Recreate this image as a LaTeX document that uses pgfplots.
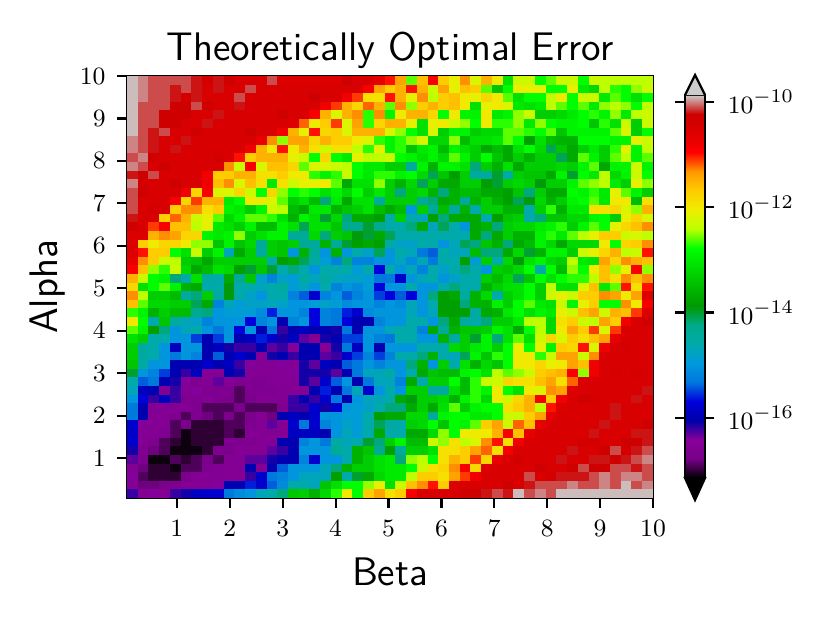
\documentclass[border=0pt]{standalone}
\usepackage{pgfplots}
\usepackage{pgfplotstable}
\pgfplotsset{compat=1.18}
\newcommand{\figtick}{\fontsize{9.4}{11}\selectfont}
\newcommand{\figlab}{\fontsize{14.4}{16}\selectfont\sffamily}
\pgfdeclareplotmark{cell}{%
  \pgfpathrectanglecorners{\pgfpoint{-1.95bp}{-1.57bp}}{\pgfpoint{1.95bp}{1.57bp}}%
  \pgfusepathqfill}
% error as tenths of a decade below 1e-10, top row first, beta left to right
\pgfplotstableread[header=false]{
-1 0 1 1 1 1 2 4 2 3 5 5 5 1 6 6 6 6 6 6 3 5 5 7 10 14 26 16 9 17 21 13 22 15 20 31 23 23 28 26 23 23 28 23 24 24 24 24 24
-1 0 1 1 2 1 2 5 2 5 5 1 5 5 5 5 5 5 5 5 5 5 9 14 17 15 10 15 23 14 21 16 17 26 34 28 21 21 21 28 28 21 30 32 24 27 28 25 23
-1 0 1 1 2 4 2 5 5 5 1 5 5 5 5 5 5 3 5 5 8 11 19 19 10 15 21 13 24 17 16 20 21 18 20 26 31 28 28 24 20 28 23 23 30 26 28 31 28
-1 1 1 1 3 3 1 3 5 5 2 5 5 5 5 5 5 5 8 11 15 18 12 15 26 13 25 17 15 17 16 20 31 21 20 22 30 31 30 24 26 28 26 30 25 24 25 28 24
-1 1 1 3 3 3 5 5 2 5 5 5 5 5 3 5 5 9 15 22 15 13 27 13 29 20 15 15 18 28 20 29 29 20 30 29 25 23 33 33 32 30 28 27 29 25 30 24 23
-1 1 1 3 3 5 5 2 5 5 5 5 5 5 5 6 12 20 17 11 22 14 27 18 15 15 21 31 21 20 23 25 28 20 27 27 25 30 25 28 29 29 28 34 27 31 23 33 23
-1 1 2 1 5 5 3 5 5 5 5 3 5 5 8 15 21 10 18 17 22 15 15 15 22 25 28 31 22 33 29 29 33 32 32 26 26 27 28 26 34 29 29 29 29 26 22 33 28
0 1 2 5 5 2 5 5 5 5 5 5 7 13 25 14 14 18 15 17 17 20 22 27 29 27 25 22 32 32 25 35 31 31 30 26 28 38 31 35 36 36 28 28 28 29 29 21 23
0 1 2 5 2 5 5 5 5 5 5 8 15 20 10 20 15 19 23 19 19 24 27 21 29 27 34 30 29 35 29 31 33 37 35 37 31 28 32 41 34 37 33 30 33 27 21 29 24
1 0 3 5 5 5 5 5 4 5 10 17 15 15 15 21 23 28 18 28 30 21 24 24 23 28 29 31 29 32 26 29 33 28 34 37 33 36 33 33 41 37 26 29 33 26 24 29 26
0 1 5 3 5 5 5 5 5 13 23 9 22 16 16 18 26 22 22 23 24 28 30 30 33 33 45 29 36 29 29 31 42 33 36 31 37 33 33 33 32 33 29 26 37 29 29 23 29
2 3 1 5 5 5 5 8 17 17 15 15 19 19 17 20 20 27 29 27 23 28 30 27 27 29 28 32 41 34 38 33 45 45 40 46 33 34 34 37 29 40 28 30 24 32 29 23 28
0 4 5 5 3 5 5 8 16 13 22 16 19 30 19 23 21 21 20 26 37 31 31 25 33 36 32 41 33 37 37 33 33 38 40 33 32 33 39 33 33 29 26 25 24 30 33 21 25
1 3 5 5 5 8 18 9 22 22 18 23 28 18 25 28 27 28 31 29 32 28 33 30 33 42 33 32 36 42 36 35 35 37 37 38 34 42 33 37 37 28 29 27 30 21 26 29 33
1 5 5 5 9 18 11 15 15 30 28 20 20 22 26 33 31 35 42 30 37 31 31 45 33 33 33 44 42 37 36 44 36 33 36 38 41 39 32 36 33 29 28 26 30 20 20 35 19
1 5 4 5 17 13 13 19 17 29 30 33 29 23 24 35 37 30 30 36 34 33 31 35 37 35 50 33 44 35 44 36 46 33 33 36 36 46 33 27 36 30 30 19 19 18 22 25 15
2 5 5 17 12 15 23 21 26 32 29 26 26 27 31 36 29 31 40 32 42 37 37 38 46 33 46 47 38 42 37 37 37 46 38 34 33 46 42 34 34 32 32 29 28 33 21 18 22
3 5 11 9 16 16 24 21 30 31 33 29 35 35 29 31 41 31 31 34 43 43 40 43 46 46 42 37 47 41 46 50 37 36 42 33 32 32 30 29 27 33 29 26 28 21 18 16 13
6 6 15 13 14 18 18 29 30 29 25 33 31 29 29 44 44 32 42 33 34 39 40 37 41 46 46 46 46 46 46 46 37 42 37 33 36 36 29 27 30 26 24 21 17 17 23 22 24
6 17 20 18 18 20 25 25 34 29 34 32 44 33 34 33 44 44 36 44 40 38 37 38 45 48 48 46 46 50 47 41 42 34 36 42 37 35 29 32 37 32 32 32 20 28 18 17 13
6 10 17 17 28 31 23 33 29 47 37 33 45 33 34 50 36 44 50 36 50 46 48 41 50 46 47 53 54 46 47 47 35 42 42 37 32 40 36 29 29 33 23 21 18 15 24 23 10
7 13 17 23 24 33 34 37 33 33 33 33 33 46 38 37 41 45 49 52 42 52 52 50 50 47 51 47 53 46 46 38 49 33 46 32 39 31 29 32 33 24 30 31 14 18 13 15 16
9 16 25 27 23 32 37 35 31 32 38 40 34 40 46 42 46 50 46 46 46 49 46 57 46 50 47 52 46 48 46 42 46 50 33 34 32 28 46 28 35 25 28 20 16 25 21 9 25
15 23 28 29 42 46 31 45 46 37 44 34 48 52 48 49 45 47 45 47 48 48 49 53 53 58 50 47 46 50 48 46 46 33 35 32 41 34 28 31 28 27 27 24 16 19 13 16 13
18 31 28 26 29 36 37 46 46 39 46 46 47 46 45 49 47 50 46 52 50 51 49 57 50 50 46 50 50 46 42 46 46 36 33 31 31 28 33 24 31 31 22 16 30 26 10 19 10
13 24 33 33 35 45 42 33 45 39 46 48 50 46 46 52 54 58 52 50 54 52 50 55 57 54 57 50 42 38 37 45 36 32 46 33 31 28 33 23 21 23 17 17 13 14 20 14 6
16 26 32 32 33 33 41 37 52 47 49 48 48 47 48 50 50 49 48 49 51 50 50 52 50 51 47 50 46 38 38 42 36 36 29 33 28 26 30 31 23 29 21 17 28 28 13 20 9
27 29 36 33 35 35 43 42 50 49 49 49 51 56 50 50 52 57 52 53 56 58 51 50 50 50 47 50 47 38 38 38 45 37 36 30 28 31 29 30 21 23 16 14 23 15 16 11 6
20 28 46 34 45 47 48 52 50 50 50 57 52 50 60 52 50 57 52 53 57 60 60 52 50 50 46 46 50 42 37 45 46 42 33 33 30 24 24 32 19 17 23 24 14 17 8 5 3
26 29 38 42 50 47 46 50 53 50 57 50 60 53 62 60 59 60 60 61 53 60 50 50 47 46 46 52 37 44 36 34 34 33 29 31 37 28 24 32 20 14 17 11 22 11 5 5 5
31 33 46 46 50 50 55 60 55 50 60 59 56 58 61 59 63 65 61 60 55 55 50 52 53 46 46 50 50 36 45 33 40 29 42 31 26 31 23 18 22 17 19 16 14 7 5 5 5
33 45 46 50 59 50 50 60 59 61 62 62 60 63 62 64 60 60 65 61 53 59 50 60 50 50 50 46 46 46 32 33 30 29 33 28 21 28 21 29 17 18 10 22 8 5 4 5 5
33 45 46 50 53 50 52 60 54 60 58 60 65 61 60 62 60 60 63 62 58 55 52 55 52 46 46 42 36 46 47 41 29 34 27 28 20 20 27 23 14 14 23 13 5 5 5 5 5
34 45 50 50 60 60 60 58 60 59 62 64 65 65 64 65 61 63 59 60 54 53 50 52 50 50 42 36 50 33 46 31 36 32 34 28 20 20 18 21 20 14 16 8 5 5 5 5 5
40 50 52 55 60 62 59 65 65 60 61 65 65 65 65 64 61 61 61 63 60 53 47 47 45 50 46 37 34 35 35 29 28 31 24 26 25 23 17 16 15 9 25 8 5 4 5 4 5
46 54 53 60 61 64 66 65 63 65 66 66 66 65 65 65 61 63 58 54 50 60 53 47 47 52 37 46 33 33 28 35 27 23 23 18 19 19 16 14 19 12 5 5 5 5 5 5 5
47 59 60 65 62 65 64 66 66 66 69 66 66 66 65 65 65 60 56 60 53 47 58 50 46 50 33 33 45 45 31 35 27 29 20 28 31 20 22 13 14 6 5 5 5 5 5 5 2
50 57 62 59 62 66 66 65 66 67 69 67 65 65 65 62 60 62 58 53 60 50 47 47 46 37 39 33 33 32 36 29 27 32 20 23 18 15 9 17 8 5 3 4 5 5 5 2 5
53 60 65 65 65 65 66 69 69 69 67 69 69 69 66 62 62 58 61 58 50 49 48 46 42 42 37 33 37 31 26 33 29 28 28 19 17 15 24 10 6 5 5 5 5 2 5 5 5
53 60 65 65 66 69 66 68 69 67 69 67 65 68 60 59 60 58 50 50 49 49 46 38 37 37 32 32 44 29 28 28 30 30 28 23 23 17 14 7 5 5 5 5 5 2 5 5 5
58 64 65 65 69 67 70 70 70 69 69 66 65 63 65 58 53 58 52 50 48 49 46 41 45 46 33 32 28 34 28 29 26 17 14 23 12 16 7 5 5 5 5 5 2 5 5 5 3
58 65 65 66 69 71 70 70 70 69 70 65 65 65 65 59 59 59 60 50 47 49 46 37 46 46 37 37 32 25 28 20 20 20 15 9 16 7 5 5 5 5 5 2 5 5 5 2 2
58 65 66 69 70 71 70 70 70 66 66 66 65 65 60 60 52 50 53 45 47 46 40 42 33 29 35 35 23 25 19 24 22 13 10 19 8 5 5 5 5 5 4 4 5 5 3 3 2
61 66 68 69 71 71 71 70 66 67 65 65 65 63 62 60 50 50 50 44 46 36 34 43 38 44 33 33 31 19 19 17 14 12 19 8 5 5 5 5 5 2 5 5 3 1 4 2 1
63 66 71 71 69 70 69 67 69 65 65 63 63 61 60 60 52 58 50 50 46 36 33 31 30 42 25 24 28 19 15 17 11 18 7 5 4 5 5 5 2 5 5 2 2 3 2 1 0
65 68 70 70 71 69 69 66 65 65 65 60 65 60 54 50 50 50 47 42 36 33 33 31 30 30 28 23 19 18 13 9 18 6 5 5 5 5 3 5 5 3 1 3 3 1 1 2 1
64 69 70 70 70 67 65 65 65 65 65 62 58 53 52 50 47 47 47 38 46 40 37 32 30 30 24 17 17 19 14 11 8 5 5 5 5 1 5 4 2 2 2 1 0 1 0 0 1
65 68 68 67 66 65 65 65 64 60 60 56 58 54 51 46 46 47 34 31 28 28 25 21 31 23 16 13 10 17 6 5 5 5 5 3 5 2 1 1 1 0 1 1 0 1 -1 1 0
62 65 64 65 62 61 59 58 58 53 51 50 47 46 42 34 33 36 32 27 20 28 17 14 19 17 9 5 5 5 5 3 3 2 1 2 -1 1 0 1 -1 -1 -1 -1 -1 -1 -1 -1 -1
}\cells

\begin{document}
\begin{tikzpicture}[x=0.36bp, y=0.36bp]
\useasboundingbox (0,0) rectangle (830,623);
\begin{axis}[
  at={(45.72bp,45bp)}, anchor=south west,
  scale only axis, width=189.36bp, height=151.92bp,
  xmin=0.057, xmax=10, ymin=0.06, ymax=10,
  xtick={1,...,10}, ytick={1,...,10},
  tick align=outside, tick pos=left, major tick length=3.5bp,
  tick style={line width=0.8pt, black},
  axis line style={line width=0.8pt},
  axis on top,
  tick label style={font=\figtick},
  xticklabel style={yshift=-1bp},
  yticklabel style={xshift=-0.7bp},
  title={Theoretically Optimal Error},
  title style={font=\figlab, yshift=-6.7bp},
  xlabel={Beta}, ylabel={Alpha},
  label style={font=\figlab},
  xlabel style={yshift=-1bp},
  ylabel style={yshift=-1.7bp},
  colormap={nipy}{rgb=(0,0,0) rgb=(0.4667,0,0.5333) rgb=(0.5333,0,0.6)
    rgb=(0,0,0.6667) rgb=(0,0,0.8667) rgb=(0,0.4667,0.8667) rgb=(0,0.6,0.8667)
    rgb=(0,0.6667,0.6667) rgb=(0,0.6667,0.5333) rgb=(0,0.6,0) rgb=(0,0.7333,0)
    rgb=(0,0.8667,0) rgb=(0,1,0) rgb=(0.7333,1,0) rgb=(0.9333,0.9333,0)
    rgb=(1,0.8,0) rgb=(1,0.6,0) rgb=(1,0,0) rgb=(0.8667,0,0) rgb=(0.8,0,0)
    rgb=(0.8,0.8,0.8)},
  point meta min=-17.14, point meta max=-9.87,
  colorbar,
  colorbar style={
    at={(parent axis.north east)}, anchor=north west,
    xshift=2.88bp, yshift=-6.84bp,
    width=7.2bp, height=137.88bp,
    ytick={-16,-14,-12,-10},
    yticklabels={$10^{-16}$,$10^{-14}$,$10^{-12}$,$10^{-10}$},
    yticklabel pos=right,
    yticklabel style={xshift=1.3bp},
    tick align=outside, major tick length=3.5bp,
    tick style={line width=0.8pt, black},
    axis line style={line width=0.8pt},
    tick label style={font=\figtick},
  },
]
\pgfplotsinvokeforeach{0,...,48}{
  \addplot[scatter, only marks, mark=cell, scatter src=explicit,
    scatter/use mapped color={fill=mapped color, draw=none}]
    table[x expr={0.057+0.2029*(#1+0.5)}, y expr={10-0.20286*(\coordindex+0.5)},
      meta expr={-10-\thisrowno{#1}/10}] {\cells};
}
\end{axis}
% colorbar extensions
\filldraw[fill=black!20, draw=black, line width=0.8pt, line join=miter]
  (685,528) -- (695,548) -- (705,528);
\filldraw[fill=black, draw=black, line width=0.8pt]
  (685,145) -- (695,123) -- (705,145) -- cycle;
\end{tikzpicture}
\end{document}
